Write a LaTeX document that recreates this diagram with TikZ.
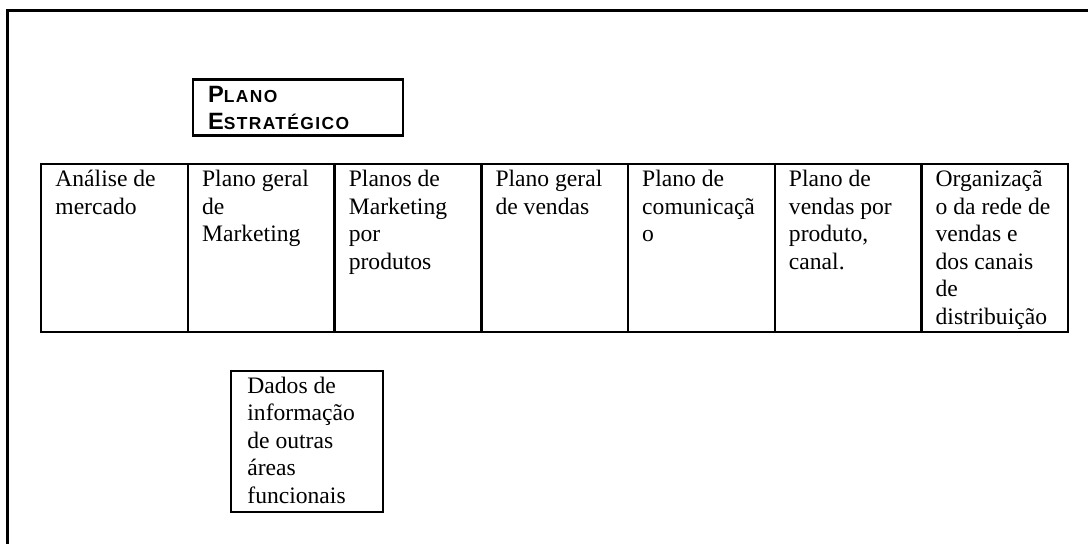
\documentclass[tikz,border=0pt]{standalone}
\usepackage{fontspec}
\setmainfont{Liberation Serif}
\newfontfamily\headfont[LetterSpace=8]{Liberation Sans}
\newcommand\bodytxt[1]{\parbox[t]{70pt}{\fontsize{11.8}{13.75}\selectfont\raggedright #1}}
\newcommand\hsc[2]{{\fontsize{11.8}{13.5}\selectfont #1}{\fontsize{8.7}{13.5}\selectfont #2}}

\begin{document}
\begin{tikzpicture}[x=0.5pt,y=-0.5pt,
  frame/.style={line width=1.2pt},
  box/.style={draw,line width=1.2pt,anchor=north west,inner sep=0pt},
  cell/.style={box,minimum width=73.355pt,minimum height=84pt},
  txt/.style={anchor=base west,inner sep=0pt}]
\useasboundingbox (0,0) rectangle (1088,544);
\draw[frame] (1092,10.5) -- (7.5,10.5) -- (7.5,548);
\node[box,minimum width=105.15pt,minimum height=28pt] (plano) at (191.7,78.3) {};
\node[txt] (planotxt) at (207.7,102.3) {\parbox[t]{90pt}{\headfont\bfseries\fontsize{11.8}{13.5}\selectfont
  \hsc{P}{LANO}\\\hsc{E}{STRATÉGICO}}};
\foreach \t [count=\i from 0] in {{Análise de\\mercado},{Plano geral\\de\\Marketing},
  {Planos de\\Marketing\\por\\produtos},{Plano geral\\de vendas},{Plano de\\comunicaçã\\o},
  {Plano de\\vendas por\\produto,\\canal.},{Organizaçã\\o da rede de\\vendas e\\dos canais\\de\\distribuição}} {
  \node[cell] (c\i) at (40+146.71*\i,163) {};
  \node[txt] (t\i) at ([xshift=7.5pt,yshift=-12pt]c\i.north west) {\bodytxt{\t}};
}
\node[box,minimum width=76pt,minimum height=70.35pt] (dados) at (230,370) {};
\node[txt] (dadostxt) at ([xshift=8.5pt,yshift=-11.6pt]dados.north west)
  {\bodytxt{Dados de\\informação\\de outras\\áreas\\funcionais}};
\end{tikzpicture}
\end{document}
